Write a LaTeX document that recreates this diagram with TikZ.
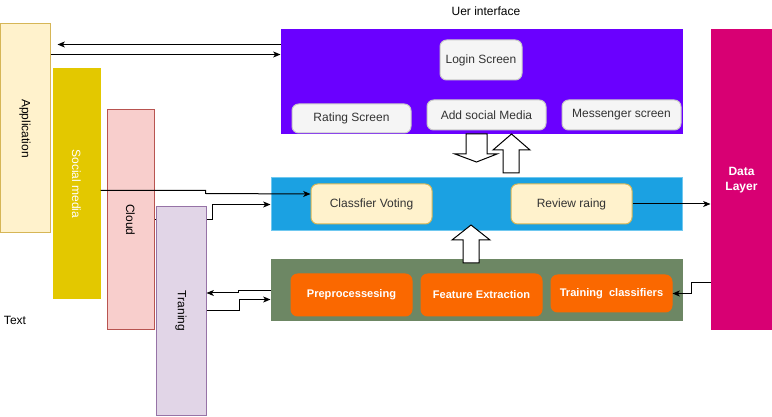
\documentclass[tikz,border=0pt]{standalone}
\usepackage{fontspec}
\setmainfont{Liberation Sans}
\usepackage{graphicx}
\usepackage{tikz}
\usetikzlibrary{arrows,arrows.meta,calc,backgrounds}
\usepackage{xcolor}

\definecolor{appfill}{HTML}{FFF2CC}
\definecolor{appline}{HTML}{D6B656}
\definecolor{socfill}{HTML}{E3C800}
\definecolor{socline}{HTML}{E3C800}
\definecolor{cloudfill}{HTML}{F8CECC}
\definecolor{cloudline}{HTML}{B85450}
\definecolor{trainfill}{HTML}{E1D5E7}
\definecolor{trainline}{HTML}{9673A6}
\definecolor{uifill}{HTML}{6A00FF}
\definecolor{scrfill}{HTML}{F5F5F5}
\definecolor{scrline}{HTML}{C8C8C8}
\definecolor{scrtext}{HTML}{333333}
\definecolor{logicfill}{HTML}{1BA1E2}
\definecolor{logicline}{HTML}{6FC8F0}
\definecolor{procfill}{HTML}{6D8764}
\definecolor{stagefill}{HTML}{FA6800}
\definecolor{datafill}{HTML}{D80073}

\tikzset{
	dims/.style 2 args={minimum width=#1*0.75pt,minimum height=#2*0.75pt},
	panel/.style={draw,line width=0.75pt,inner sep=0pt,font=\fontsize{9}{11}\selectfont},
	screen/.style={panel,rounded corners=5pt,fill=scrfill,draw=scrline,text=scrtext},
	card/.style={panel,rounded corners=5pt,fill=appfill,draw=appline,text=scrtext},
	stage/.style={panel,rounded corners=5pt,fill=stagefill,draw=stagefill,text=white,font=\fontsize{8.3}{10}\selectfont\bfseries},
	flow/.style={line width=0.75pt},
	hollow/.style={draw=black,fill=white,line width=0.75pt,line join=miter}
}

\begin{document}
\begin{tikzpicture}[x=0.75pt,y=-0.75pt,>={Stealth[length=5.5pt,width=4.5pt,inset=1.5pt]}]
		\useasboundingbox (0,0) rectangle (772,417);

		% side columns
		\node[panel,fill=appfill,draw=appline,dims={50}{209}] (app) at (25,128.5) {\rotatebox{-90}{Application}};
		\node[panel,fill=socfill,draw=socline,text=white,dims={47}{230}] (social) at (76.5,184) {\rotatebox{-90}{Social media}};
		\node[panel,fill=cloudfill,draw=cloudline,dims={47}{220}] (cloud) at (130.5,220) {\rotatebox{-90}{Cloud}};
		\node[panel,fill=trainfill,draw=trainline,dims={50}{209}] (train) at (181,311) {\rotatebox{-90}{Traning}};
		\node[font=\fontsize{9}{11}\selectfont] (txt) at (15,320) {Text};

		% user interface
		\node[font=\fontsize{9}{11}\selectfont] (uititle) at (486,11) {Uer interface};
		\node[panel,fill=uifill,draw=uifill,dims={401}{104}] (ui) at (481.5,82) {};
		\node[screen,dims={82}{40}] (login) at (481,60) {Login Screen};
		\node[screen,dims={119}{29}] (rating) at (351.5,118.5) {Rating Screen};
		\node[screen,dims={119}{30}] (addsm) at (486.5,115) {Add social Media};
		\node[screen,dims={119}{30}] (msg) at (621.5,115) {Messenger screen};

		% logic layer
		\node[panel,fill=logicfill,draw=logicline,dims={411}{53}] (logic) at (476.5,204.5) {};
		\node[card,dims={121}{40}] (vote) at (371.5,204) {Classfier Voting};
		\node[card,dims={121}{40}] (review) at (571.5,204) {Review raing};

		% processing layer
		\node[panel,fill=procfill,draw=procfill,dims={411}{61}] (proc) at (476.5,290.5) {};
		\node[stage,dims={121}{42}] (prep) at (351.5,295) {Preprocessesing};
		\node[stage,dims={121}{42}] (feat) at (481.5,295) {Feature Extraction};
		\node[stage,dims={121}{37}] (tcls) at (611.5,293.5) {Training\ \ classifiers};

		% data layer
		\node[panel,fill=datafill,draw=datafill,text=white,align=center,font=\fontsize{9}{11}\selectfont\bfseries,dims={61}{300}] (data) at (741.5,180) {Data\\Layer};

		% block arrows
		\draw[hollow] (466,134) -- (487,134) -- (487,154) -- (497,154) -- (476.5,162) -- (455,154) -- (466,154) -- cycle;
		\draw[hollow] (503,173) -- (519,173) -- (519,150) -- (530,150) -- (511.5,134) -- (493,150) -- (503,150) -- cycle;
		\draw[hollow] (463,263) -- (479,263) -- (479,240) -- (490,240) -- (471,225) -- (452,240) -- (463,240) -- cycle;

		% connectors
		\draw[flow,->] ($(ui.north west)+(0,15)$) -- ($(app.north east)+(7,21)$);
		\draw[flow,->] ($(app.north east)+(0,31)$) -- ($(ui.north west)+(0,25)$);
		\draw[flow,->] ($(social.north east)+(0,122)$) -- ++(105,0) -- ++(0,3) -- ($(vote.west)+(0,-10)$);
		\begin{scope}[on background layer]
			\draw[flow,->] (cloud.east) -- ++(58,0) |- (logic.west);
		\end{scope}
		\draw[flow,->] (review.east) -- (review.east -| data.west);
		\draw[flow,->] ($(data.west)+(0,103)$) -- ++(-19,0) |- (tcls.east);
		\draw[flow,->] (proc.west) -- ++(-32,0) -- ++(0,2.5) -- ($(train.east)+(0,-18)$);
		\draw[flow,->] (train.east) -- ++(33,0) |- ($(proc.west)+(0,9)$);
\end{tikzpicture}
\end{document}
